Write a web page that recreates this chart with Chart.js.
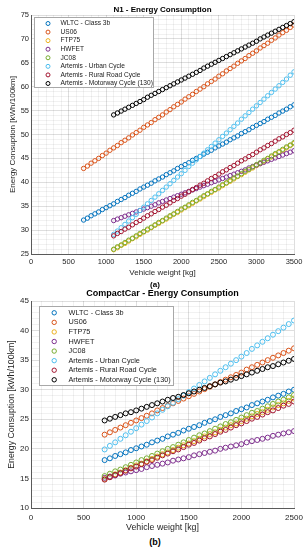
<!DOCTYPE html>
<html>
<head>
<meta charset="utf-8">
<title>Energy Consumption</title>
<script src="https://cdn.jsdelivr.net/npm/chart.js@4.4.1/dist/chart.umd.min.js"></script>
<style>
  html, body { margin: 0; padding: 0; background: #fff; }
  body { width: 308px; height: 550px; position: relative; overflow: hidden; font-family: 'Liberation Sans', Arial, sans-serif; }
  canvas { position: absolute; left: 0; }
  #chartN1 { top: 0; width: 308px; height: 281px; }
  #chartCC { top: 284px; width: 308px; height: 252px; }
  .caption { position: absolute; left: 0; width: 310px; text-align: center; font-weight: bold; color: #000; line-height: 10px; }
</style>
</head>
<body>
<canvas id="chartN1" width="308" height="281"></canvas>
<canvas id="chartCC" width="308" height="252"></canvas>
<div class="caption" style="top:280px;font-size:8px">(a)</div>
<div class="caption" style="top:537px;font-size:9px">(b)</div>
<script>
// ---- Data (vehicle weight in kg, energy in kWh/100km) ----

const SERIES_LABELS = [
  'WLTC - Class 3b',
  'US06',
  'FTP75',
  'HWFET',
  'JC08',
  'Artemis - Urban Cycle',
  'Artemis - Rural Road Cycle',
  'Artemis - Motorway Cycle (130)'
];

// N1 panel
const N1_WEIGHTS_FULL = [700, 750, 800, 850, 900, 950, 1000, 1050, 1100, 1150, 1200, 1250, 1300, 1350, 1400, 1450, 1500, 1550, 1600, 1650, 1700, 1750, 1800, 1850, 1900, 1950, 2000, 2050, 2100, 2150, 2200, 2250, 2300, 2350, 2400, 2450, 2500, 2550, 2600, 2650, 2700, 2750, 2800, 2850, 2900, 2950, 3000, 3050, 3100, 3150, 3200, 3250, 3300, 3350, 3400, 3450, 3500];
const N1_WEIGHTS = [1100, 1150, 1200, 1250, 1300, 1350, 1400, 1450, 1500, 1550, 1600, 1650, 1700, 1750, 1800, 1850, 1900, 1950, 2000, 2050, 2100, 2150, 2200, 2250, 2300, 2350, 2400, 2450, 2500, 2550, 2600, 2650, 2700, 2750, 2800, 2850, 2900, 2950, 3000, 3050, 3100, 3150, 3200, 3250, 3300, 3350, 3400, 3450, 3500];

const N1_WLTC = [32.1, 32.5, 33.0, 33.4, 33.8, 34.3, 34.7, 35.1, 35.5, 36.0, 36.4, 36.8, 37.3, 37.7, 38.1, 38.6, 39.0, 39.4, 39.8, 40.3, 40.7, 41.1, 41.6, 42.0, 42.4, 42.9, 43.3, 43.7, 44.1, 44.6, 45.0, 45.4, 45.9, 46.3, 46.7, 47.2, 47.6, 48.0, 48.4, 48.9, 49.3, 49.7, 50.2, 50.6, 51.0, 51.5, 51.9, 52.3, 52.7, 53.2, 53.6, 54.0, 54.5, 54.9, 55.3, 55.8, 56.2];
const N1_US06 = [42.9, 43.4, 44.0, 44.5, 45.0, 45.6, 46.1, 46.7, 47.2, 47.7, 48.3, 48.8, 49.3, 49.9, 50.4, 50.9, 51.5, 52.0, 52.5, 53.1, 53.6, 54.1, 54.7, 55.2, 55.8, 56.3, 56.8, 57.4, 57.9, 58.4, 59.0, 59.5, 60.0, 60.6, 61.1, 61.6, 62.2, 62.7, 63.3, 63.8, 64.3, 64.9, 65.4, 65.9, 66.5, 67.0, 67.5, 68.1, 68.6, 69.1, 69.7, 70.2, 70.8, 71.3, 71.8, 72.4, 72.9];
const N1_FTP75 = [25.9, 26.3, 26.8, 27.2, 27.7, 28.2, 28.6, 29.1, 29.6, 30.0, 30.5, 31.0, 31.4, 31.9, 32.3, 32.8, 33.3, 33.7, 34.2, 34.7, 35.1, 35.6, 36.1, 36.5, 37.0, 37.5, 37.9, 38.4, 38.8, 39.3, 39.8, 40.2, 40.7, 41.2, 41.6, 42.1, 42.6, 43.0, 43.5, 43.9, 44.4, 44.9, 45.3, 45.8, 46.3, 46.7, 47.2, 47.7, 48.1];
const N1_HWFET = [32.0, 32.3, 32.6, 32.9, 33.2, 33.5, 33.8, 34.1, 34.4, 34.7, 35.0, 35.3, 35.7, 36.0, 36.3, 36.6, 36.9, 37.2, 37.5, 37.8, 38.1, 38.4, 38.7, 39.0, 39.3, 39.6, 39.9, 40.2, 40.5, 40.8, 41.1, 41.4, 41.7, 42.0, 42.3, 42.6, 43.0, 43.3, 43.6, 43.9, 44.2, 44.5, 44.8, 45.1, 45.4, 45.7, 46.0, 46.3, 46.6];
const N1_JC08 = [26.0, 26.5, 26.9, 27.4, 27.9, 28.3, 28.8, 29.3, 29.7, 30.2, 30.6, 31.1, 31.6, 32.0, 32.5, 33.0, 33.4, 33.9, 34.4, 34.8, 35.3, 35.8, 36.2, 36.7, 37.2, 37.6, 38.1, 38.5, 39.0, 39.5, 39.9, 40.4, 40.9, 41.3, 41.8, 42.3, 42.7, 43.2, 43.7, 44.1, 44.6, 45.0, 45.5, 46.0, 46.4, 46.9, 47.4, 47.8, 48.3];
const N1_URBAN = [29.1, 29.8, 30.5, 31.2, 31.9, 32.6, 33.3, 34.1, 34.8, 35.5, 36.2, 36.9, 37.6, 38.3, 39.0, 39.7, 40.4, 41.1, 41.8, 42.5, 43.3, 44.0, 44.7, 45.4, 46.1, 46.8, 47.5, 48.2, 48.9, 49.6, 50.3, 51.0, 51.7, 52.4, 53.2, 53.9, 54.6, 55.3, 56.0, 56.7, 57.4, 58.1, 58.8, 59.5, 60.2, 60.9, 61.6, 62.4, 63.1];
const N1_RURAL = [28.8, 29.3, 29.7, 30.2, 30.6, 31.1, 31.6, 32.0, 32.5, 33.0, 33.4, 33.9, 34.3, 34.8, 35.2, 35.7, 36.2, 36.6, 37.1, 37.5, 38.0, 38.5, 38.9, 39.4, 39.8, 40.3, 40.8, 41.2, 41.7, 42.2, 42.6, 43.1, 43.5, 44.0, 44.5, 44.9, 45.4, 45.8, 46.3, 46.8, 47.2, 47.7, 48.1, 48.6, 49.1, 49.5, 50.0, 50.4, 50.9];
const N1_MOTORWAY = [54.1, 54.5, 54.9, 55.3, 55.7, 56.1, 56.5, 56.9, 57.3, 57.8, 58.2, 58.6, 59.0, 59.4, 59.8, 60.2, 60.6, 61.0, 61.4, 61.8, 62.2, 62.6, 63.0, 63.4, 63.9, 64.3, 64.7, 65.1, 65.5, 65.9, 66.3, 66.7, 67.1, 67.5, 67.9, 68.3, 68.7, 69.1, 69.5, 70.0, 70.4, 70.8, 71.2, 71.6, 72.0, 72.4, 72.8, 73.2, 73.6];

// CompactCar panel
const CC_WEIGHTS = [700, 750, 800, 850, 900, 950, 1000, 1050, 1100, 1150, 1200, 1250, 1300, 1350, 1400, 1450, 1500, 1550, 1600, 1650, 1700, 1750, 1800, 1850, 1900, 1950, 2000, 2050, 2100, 2150, 2200, 2250, 2300, 2350, 2400, 2450, 2500];

const CC_WLTC = [18.1, 18.4, 18.8, 19.1, 19.4, 19.8, 20.1, 20.4, 20.7, 21.1, 21.4, 21.7, 22.1, 22.4, 22.7, 23.1, 23.4, 23.7, 24.0, 24.4, 24.7, 25.0, 25.4, 25.7, 26.0, 26.4, 26.7, 27.0, 27.4, 27.7, 28.0, 28.3, 28.7, 29.0, 29.3, 29.7, 30.0];
const CC_US06 = [22.4, 22.8, 23.2, 23.6, 24.0, 24.4, 24.8, 25.2, 25.6, 26.0, 26.5, 26.9, 27.3, 27.7, 28.1, 28.5, 28.9, 29.3, 29.7, 30.1, 30.5, 30.9, 31.3, 31.7, 32.1, 32.5, 32.9, 33.4, 33.8, 34.2, 34.6, 35.0, 35.4, 35.8, 36.2, 36.6, 37.0];
const CC_FTP75 = [14.9, 15.3, 15.7, 16.0, 16.4, 16.8, 17.2, 17.5, 17.9, 18.3, 18.7, 19.1, 19.4, 19.8, 20.2, 20.6, 20.9, 21.3, 21.7, 22.1, 22.5, 22.8, 23.2, 23.6, 24.0, 24.3, 24.7, 25.1, 25.5, 25.9, 26.2, 26.6, 27.0, 27.4, 27.7, 28.1, 28.5];
const CC_HWFET = [15.1, 15.3, 15.5, 15.8, 16.0, 16.2, 16.4, 16.6, 16.9, 17.1, 17.3, 17.5, 17.7, 18.0, 18.2, 18.4, 18.6, 18.9, 19.1, 19.3, 19.5, 19.7, 20.0, 20.2, 20.4, 20.6, 20.8, 21.1, 21.3, 21.5, 21.7, 21.9, 22.2, 22.4, 22.6, 22.8, 23.0];
const CC_JC08 = [15.4, 15.8, 16.2, 16.5, 16.9, 17.3, 17.7, 18.1, 18.4, 18.8, 19.2, 19.6, 20.0, 20.3, 20.7, 21.1, 21.5, 21.9, 22.3, 22.6, 23.0, 23.4, 23.8, 24.2, 24.5, 24.9, 25.3, 25.7, 26.1, 26.4, 26.8, 27.2, 27.6, 28.0, 28.3, 28.7, 29.1];
const CC_URBAN = [19.9, 20.5, 21.1, 21.7, 22.3, 22.9, 23.5, 24.1, 24.7, 25.3, 26.0, 26.6, 27.2, 27.8, 28.4, 29.0, 29.6, 30.2, 30.8, 31.4, 32.0, 32.6, 33.2, 33.8, 34.4, 35.0, 35.6, 36.2, 36.9, 37.5, 38.1, 38.7, 39.3, 39.9, 40.5, 41.1, 41.7];
const CC_RURAL = [14.8, 15.2, 15.6, 15.9, 16.3, 16.7, 17.0, 17.4, 17.8, 18.1, 18.5, 18.9, 19.2, 19.6, 19.9, 20.3, 20.7, 21.0, 21.4, 21.8, 22.1, 22.5, 22.9, 23.2, 23.6, 24.0, 24.3, 24.7, 25.1, 25.4, 25.8, 26.2, 26.5, 26.9, 27.3, 27.6, 28.0];
const CC_MOTORWAY = [24.8, 25.1, 25.4, 25.7, 26.0, 26.2, 26.5, 26.8, 27.1, 27.4, 27.7, 28.0, 28.3, 28.6, 28.8, 29.1, 29.4, 29.7, 30.0, 30.3, 30.6, 30.9, 31.2, 31.4, 31.7, 32.0, 32.3, 32.6, 32.9, 33.2, 33.5, 33.8, 34.0, 34.3, 34.6, 34.9, 35.2];

// MATLAB default line colours, in series order
const SERIES_COLORS = ['#0072BD', '#D95319', '#EDB120', '#7E2F8E', '#77AC30', '#4DBEEE', '#A2142F', '#000000'];

const FONT_FAMILY = "'Liberation Sans', Arial, Helvetica, sans-serif";
Chart.defaults.font.family = FONT_FAMILY;

/**
 * Zip x and y arrays into Chart.js scatter points
 */
function toPoints(xs, ys) {
  return ys.map((y, i) => ({ x: xs[i], y }));
}

/**
 * Legend drawn inside the plot area, MATLAB style (white box, grey edge)
 */
const insideLegend = {
  id: 'insideLegend',
  afterDraw(chart, args, opts) {
    const { ctx, chartArea } = chart;
    const x0 = Math.round(chartArea.left + opts.offsetX) + 0.5;
    const y0 = Math.round(chartArea.top + opts.offsetY) + 0.5;

    ctx.save();
    ctx.fillStyle = '#ffffff';
    ctx.fillRect(x0, y0, opts.width, opts.height);
    ctx.strokeStyle = '#a8a8a8';
    ctx.lineWidth = 1;
    ctx.strokeRect(x0, y0, opts.width, opts.height);

    ctx.font = `${opts.fontSize}px ${FONT_FAMILY}`;
    ctx.textBaseline = 'middle';
    ctx.textAlign = 'left';
    chart.data.datasets.forEach((ds, i) => {
      const y = y0 + opts.firstRow + i * opts.rowHeight;
      ctx.beginPath();
      ctx.arc(x0 + opts.markerX, y, opts.markerRadius, 0, Math.PI * 2);
      ctx.strokeStyle = ds.borderColor;
      ctx.lineWidth = 1;
      ctx.stroke();
      ctx.fillStyle = '#1a1a1a';
      ctx.fillText(ds.label, x0 + opts.textX, y);
    });
    ctx.restore();
  }
};

/**
 * Build one scatter panel
 */
function renderPanel(canvasId, panel) {
  const canvas = document.getElementById(canvasId);
  const datasets = panel.series.map((s, i) => ({
    label: SERIES_LABELS[i],
    data: toPoints(s.x, s.y),
    borderColor: SERIES_COLORS[i],
    backgroundColor: 'rgba(0,0,0,0)',
    pointRadius: panel.pointRadius,
    pointBorderWidth: 1,
    pointStyle: 'circle',
    showLine: false,
    order: -i // later series on top, as in MATLAB
  }));

  const gridColor = (major) => (ctx) =>
    (ctx.tick && ctx.tick.value % major === 0) ? 'rgba(0,0,0,0.13)' : 'rgba(0,0,0,0.055)';

  return new Chart(canvas, {
    type: 'scatter',
    data: { datasets },
    plugins: [insideLegend],
    options: {
      responsive: false,
      animation: false,
      events: [],
      layout: { padding: { left: 0, right: 14, top: 0, bottom: 0 } },
      plugins: {
        legend: { display: false },
        tooltip: { enabled: false },
        title: {
          display: true,
          text: panel.title,
          fullSize: false,
          color: '#000',
          font: { size: panel.titleSize, weight: 'bold' },
          padding: panel.titlePadding
        },
        insideLegend: panel.legend
      },
      scales: {
        x: {
          type: 'linear',
          min: 0,
          max: panel.xMax,
          afterFit: (scale) => { scale.height = panel.xAxisHeight; },
          ticks: {
            stepSize: 100,
            autoSkip: false,
            maxRotation: 0,
            padding: panel.xTickPadding,
            color: '#262626',
            font: { size: panel.tickSize },
            callback: (v) => (v % 500 === 0 ? String(v) : '')
          },
          grid: { color: gridColor(500), drawTicks: false, lineWidth: 1 },
          border: { display: true, color: '#5a5a5a', width: 1 },
          title: {
            display: true,
            text: 'Vehicle weight [kg]',
            color: '#262626',
            font: { size: panel.axisTitleSize },
            padding: { top: 0, bottom: panel.xTitleBottom }
          }
        },
        y: {
          type: 'linear',
          min: panel.yMin,
          max: panel.yMax,
          afterFit: (scale) => { scale.width = 31; },
          ticks: {
            stepSize: 1,
            autoSkip: false,
            padding: 2,
            color: '#262626',
            font: { size: panel.tickSize },
            callback: (v) => (v % 5 === 0 ? String(v) : '')
          },
          grid: { color: gridColor(5), drawTicks: false, lineWidth: 1 },
          border: { display: true, color: '#5a5a5a', width: 1 },
          title: {
            display: true,
            text: 'Energy Consuption [kWh/100km]',
            color: '#262626',
            font: { size: panel.axisTitleSize },
            padding: { top: panel.yTitleLeft, bottom: 0 }
          }
        }
      }
    }
  });
}

renderPanel('chartN1', {
  title: 'N1 - Energy Consumption',
  titleSize: 8,
  titlePadding: { top: 5.2, bottom: 0.2 },
  tickSize: 7.5,
  axisTitleSize: 8,
  xMax: 3500,
  yMin: 25,
  yMax: 75,
  xAxisHeight: 27,
  xTickPadding: 3.5,
  xTitleBottom: 3.2,
  yTitleLeft: 8,
  pointRadius: 2.2,
  legend: { offsetX: 3, offsetY: 1.5, width: 119, height: 70, firstRow: 6, rowHeight: 8.57, markerX: 13.5, textX: 26, markerRadius: 2, fontSize: 6.6 },
  series: [
    { x: N1_WEIGHTS_FULL, y: N1_WLTC },
    { x: N1_WEIGHTS_FULL, y: N1_US06 },
    { x: N1_WEIGHTS, y: N1_FTP75 },
    { x: N1_WEIGHTS, y: N1_HWFET },
    { x: N1_WEIGHTS, y: N1_JC08 },
    { x: N1_WEIGHTS, y: N1_URBAN },
    { x: N1_WEIGHTS, y: N1_RURAL },
    { x: N1_WEIGHTS, y: N1_MOTORWAY }
  ]
});

renderPanel('chartCC', {
  title: 'CompactCar - Energy Consumption',
  titleSize: 9,
  titlePadding: { top: 4.6, bottom: 1.6 },
  tickSize: 8,
  axisTitleSize: 8.8,
  xMax: 2500,
  yMin: 10,
  yMax: 45,
  xAxisHeight: 28,
  xTickPadding: 4.5,
  xTitleBottom: 2.7,
  yTitleLeft: 6.4,
  pointRadius: 2.5,
  legend: { offsetX: 8, offsetY: 5, width: 134, height: 79, firstRow: 6.3, rowHeight: 9.57, markerX: 14.7, textX: 29, markerRadius: 2.2, fontSize: 7.3 },
  series: [
    { x: CC_WEIGHTS, y: CC_WLTC },
    { x: CC_WEIGHTS, y: CC_US06 },
    { x: CC_WEIGHTS, y: CC_FTP75 },
    { x: CC_WEIGHTS, y: CC_HWFET },
    { x: CC_WEIGHTS, y: CC_JC08 },
    { x: CC_WEIGHTS, y: CC_URBAN },
    { x: CC_WEIGHTS, y: CC_RURAL },
    { x: CC_WEIGHTS, y: CC_MOTORWAY }
  ]
});
</script>
</body>
</html>
